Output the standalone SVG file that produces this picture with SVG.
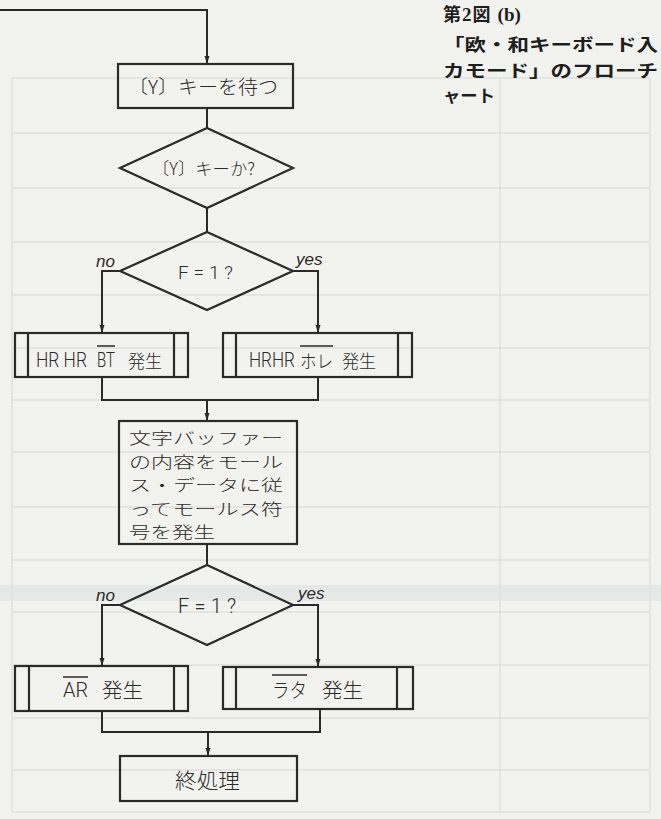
<svg xmlns="http://www.w3.org/2000/svg" width="661" height="819" viewBox="0 0 661 819">
<defs>
<style>
.bg{fill:#f2f2ee}
.grid{stroke:#dfe0de;stroke-width:1.5;fill:none}
.box{fill:none;stroke:#2a2a2a;stroke-width:2.2}
.conn{fill:none;stroke:#2a2a2a;stroke-width:2}
.t{font-family:"Noto Sans CJK JP","Noto Sans",sans-serif;fill:#2a2a2a;font-weight:300}
.lat{font-family:"Roboto","Liberation Sans",sans-serif;fill:#2a2a2a;font-weight:300}
.lbl{font-family:"Liberation Sans",sans-serif;font-style:italic;fill:#2a2a2a;font-size:17px}
.cap{font-family:"Noto Sans CJK JP",sans-serif;font-weight:700;fill:#1e1e1e}
.ov{stroke:#2a2a2a;stroke-width:1.5}
</style>
<marker id="ah" markerWidth="8" markerHeight="9" refX="8" refY="4" orient="auto" markerUnits="userSpaceOnUse" viewBox="0 0 8 8">
<path d="M0,1.5 L8,4 L0,6.5 z" fill="#2a2a2a"/>
</marker>
</defs>
<rect class="bg" x="0" y="0" width="661" height="819"/>
<g id="show-through">
<rect x="0" y="585" width="661" height="16" fill="#e6e8e8"/>
<path class="grid" d="M12,78 V812 M500,78 V812 M650,78 V812 M12,78 H650 M12,133 H650 M12,188 H650 M12,242 H650 M12,295 H650 M12,348 H650 M12,400 H650 M12,452 H650 M12,507 H650 M12,560 H650 M12,612 H650 M12,665 H650 M12,718 H650 M12,770 H650 M12,812 H650"/>
</g>
<g id="connectors">
<path class="conn" d="M0,10 H207 V64" marker-end="url(#ah)"/>
<path class="conn" d="M207,108 V128"/>
<path class="conn" d="M207,208 V232"/>
<path class="conn" d="M120,271 H102 V333" marker-end="url(#ah)"/>
<path class="conn" d="M293,271 H318 V333" marker-end="url(#ah)"/>
<path class="conn" d="M102,377 V400 H318 V377"/>
<path class="conn" d="M207,400 V421" marker-end="url(#ah)"/>
<path class="conn" d="M207,544 V565"/>
<path class="conn" d="M120,605 H102 V666" marker-end="url(#ah)"/>
<path class="conn" d="M293,605 H318 V667" marker-end="url(#ah)"/>
<path class="conn" d="M102,711 V732 H320 V709"/>
<path class="conn" d="M208,732 V756" marker-end="url(#ah)"/>
<text class="lbl" x="96" y="267">no</text>
<text class="lbl" x="296" y="265">yes</text>
<text class="lbl" x="96" y="601">no</text>
<text class="lbl" x="298" y="599">yes</text>
</g>
<g id="wait-y">
<rect class="box" x="118" y="64" width="175" height="44"/>
<text class="t" x="128" y="94" font-size="19" textLength="150" lengthAdjust="spacingAndGlyphs">〔Y〕キーを待つ</text>
</g>
<g id="is-y">
<polygon class="box" points="207,128 293,168 207,208 120,168"/>
<text class="t" x="152" y="175" font-size="17" textLength="103" lengthAdjust="spacingAndGlyphs">〔Y〕キーか?</text>
</g>
<g id="f1-a">
<polygon class="box" points="207,232 293,271 207,310 120,271"/>
<text class="lat" x="178" y="279" font-size="19" textLength="55" lengthAdjust="spacing">F=1?</text>
</g>
<g id="hrhr-bt">
<rect class="box" x="15" y="333" width="173" height="44"/>
<path class="box" d="M28,333 V377 M174,333 V377"/>
<text class="lat" x="36" y="367" font-size="20" textLength="51" lengthAdjust="spacingAndGlyphs">HR HR</text>
<text class="lat" x="97" y="367" font-size="20" textLength="18" lengthAdjust="spacingAndGlyphs">BT</text>
<line class="ov" x1="97" y1="346" x2="115" y2="346"/>
<text class="t" x="128" y="368" font-size="18" textLength="34" lengthAdjust="spacingAndGlyphs">発生</text>
</g>
<g id="hrhr-hore">
<rect class="box" x="223" y="333" width="189" height="44"/>
<path class="box" d="M236,333 V377 M398,333 V377"/>
<text class="lat" x="249" y="367" font-size="20" textLength="46" lengthAdjust="spacingAndGlyphs">HRHR</text>
<text class="t" x="300" y="368" font-size="18" textLength="33" lengthAdjust="spacingAndGlyphs">ホレ</text>
<line class="ov" x1="300" y1="346" x2="333" y2="346"/>
<text class="t" x="342" y="368" font-size="18" textLength="34" lengthAdjust="spacingAndGlyphs">発生</text>
</g>
<g id="morse">
<rect class="box" x="119" y="421" width="178" height="123"/>
<text class="t" x="129" y="444" font-size="16" textLength="154" lengthAdjust="spacingAndGlyphs">文字バッファー</text>
<text class="t" x="129" y="467.5" font-size="16" textLength="154" lengthAdjust="spacingAndGlyphs">の内容をモール</text>
<text class="t" x="129" y="491" font-size="16" textLength="154" lengthAdjust="spacingAndGlyphs">ス・データに従</text>
<text class="t" x="129" y="514.5" font-size="16" textLength="154" lengthAdjust="spacingAndGlyphs">ってモールス符</text>
<text class="t" x="129" y="538" font-size="16" textLength="86" lengthAdjust="spacingAndGlyphs">号を発生</text>
</g>
<g id="f1-b">
<polygon class="box" points="207,565 293,605 207,645 120,605"/>
<text class="lat" x="178" y="613" font-size="20" textLength="58" lengthAdjust="spacing">F=1?</text>
</g>
<g id="ar">
<rect class="box" x="15" y="666" width="173" height="45"/>
<path class="box" d="M29,666 V711 M174,666 V711"/>
<text class="lat" x="63" y="697" font-size="21" textLength="25" lengthAdjust="spacingAndGlyphs">AR</text>
<line class="ov" x1="63" y1="677" x2="88" y2="677"/>
<text class="t" x="102" y="698" font-size="20" textLength="41" lengthAdjust="spacingAndGlyphs">発生</text>
</g>
<g id="rata">
<rect class="box" x="223" y="667" width="190" height="42"/>
<path class="box" d="M236,667 V709 M397,667 V709"/>
<text class="t" x="272" y="698" font-size="20" textLength="35" lengthAdjust="spacingAndGlyphs">ラタ</text>
<line class="ov" x1="272" y1="675" x2="307" y2="675"/>
<text class="t" x="322" y="698" font-size="20" textLength="41" lengthAdjust="spacingAndGlyphs">発生</text>
</g>
<g id="end">
<rect class="box" x="120" y="756" width="177" height="45"/>
<text class="t" x="175" y="788" font-size="21" textLength="65" lengthAdjust="spacingAndGlyphs">終処理</text>
</g>
<g id="caption">
<text class="cap" x="443" y="21" font-size="18"><tspan>第</tspan><tspan font-family="Liberation Serif" font-size="19" dx="1">2</tspan><tspan dx="1">図 </tspan><tspan font-family="Liberation Serif" font-size="19" dx="3">(b)</tspan></text>
<text class="cap" x="443" y="51" font-size="17" textLength="215" lengthAdjust="spacingAndGlyphs">「欧・和キーボード入</text>
<text class="cap" x="443" y="77" font-size="17" textLength="215" lengthAdjust="spacingAndGlyphs">カモード」のフローチ</text>
<text class="cap" x="443" y="102" font-size="17" textLength="52" lengthAdjust="spacingAndGlyphs">ャート</text>
</g>
</svg>
